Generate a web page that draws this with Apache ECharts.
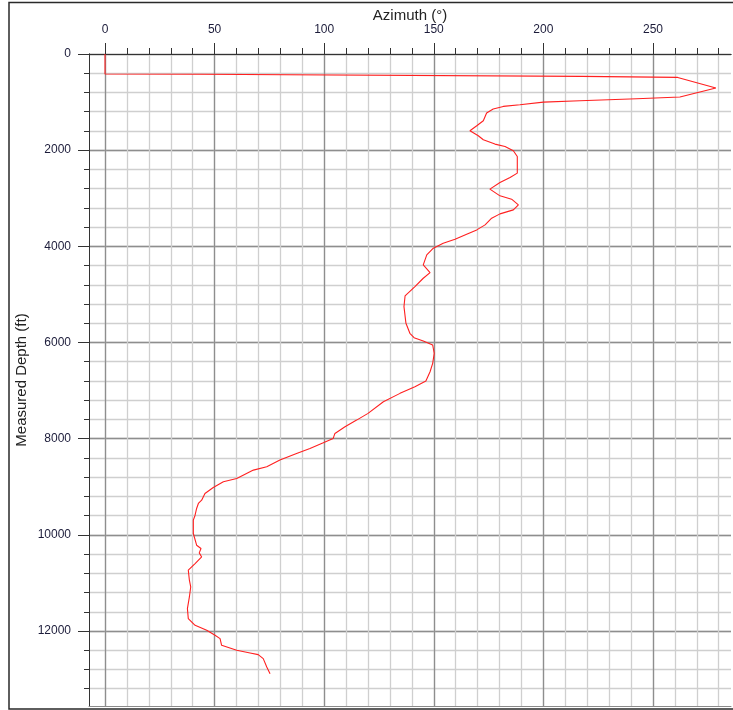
<!DOCTYPE html>
<html>
<head>
<meta charset="utf-8">
<script src="https://cdn.jsdelivr.net/npm/echarts@6/dist/echarts.min.js"></script>
<style>
  html, body { margin: 0; padding: 0; background: #fff; }
  #chart { width: 733px; height: 710px; }
</style>
</head>
<body>
<div id="chart"></div>
<script>
// Survey stations: measured depth (ft) and azimuth (deg)
const depthFt = [
  0, 416, 420, 445, 465, 487, 708, 893, 930, 972, 1000, 1056, 1090, 1145, 1228, 1389,
  1493, 1597, 1701, 1784, 1874, 1924, 2013, 2132, 2478, 2569, 2673, 2810, 2950, 3019,
  3137, 3242, 3325, 3414, 3554, 3658, 3748, 3852, 3935, 4039, 4178, 4387, 4547, 4664,
  4838, 5032, 5255, 5601, 5809, 5900, 5969, 6052, 6225, 6433, 6608, 6802, 6920, 7058,
  7233, 7474, 7614, 7753, 7891, 7995, 8086, 8203, 8307, 8446, 8585, 8654, 8827, 8898,
  9015, 9140, 9279, 9348, 9452, 9592, 9695, 9972, 10216, 10285, 10376, 10460, 10597,
  10736, 10944, 11084, 11292, 11534, 11742, 11881, 11986, 12090, 12159, 12298, 12402,
  12458, 12492, 12575, 12749, 12887
];
const azimuthDeg = [
  0, 0, 43.3, 43.6, 217.5, 261.3, 278.7, 262.3, 242.6, 216.7, 200, 189.3, 181.7, 177.1, 174.1, 172.6,
  169.6, 166.5, 170.3, 172.6, 177.9, 182.5, 186.3, 188.1, 188.1, 184.8, 180.2, 175.6, 180.2, 185.5,
  188.6, 186.3, 180.2, 176.4, 173.4, 169.6, 165.0, 159.7, 154.3, 149.8, 146.8, 145.2, 148.3, 145.2,
  141.4, 136.9, 136.4, 137.3, 139.1, 141.0, 145.2, 149.5, 150.2, 149.5, 148.3, 146.4, 141.4, 134.6,
  127.0, 120.0, 114.8, 109.5, 104.9, 104.1, 99.6, 93.5, 87.4, 79.8, 73.8, 67.7, 60.1, 54.0,
  49.4, 45.6, 44.1, 42.6, 41.8, 41.1, 40.3, 40.3, 41.8, 43.8, 43.0, 44.1, 41.1,
  38.0, 38.5, 39.1, 38.5, 37.6, 38.0, 41.1, 46.4, 50.2, 52.5, 53.2, 60.1,
  66.2, 69.9, 72.2, 73.8, 75.3
];

// Tick positions
const azimuthMajorTicks = [0, 50, 100, 150, 200, 250];
const azimuthMinorTicks = [0, 10, 20, 30, 40, 50, 60, 70, 80, 90, 100, 110, 120, 130, 140,
  150, 160, 170, 180, 190, 200, 210, 220, 230, 240, 250, 260, 270, 280];
const depthMajorTicks = [0, 2000, 4000, 6000, 8000, 10000, 12000];
const depthMinorTicks = [0, 400, 800, 1200, 1600, 2000, 2400, 2800, 3200, 3600, 4000, 4400,
  4800, 5200, 5600, 6000, 6400, 6800, 7200, 7600, 8000, 8400, 8800, 9200, 9600, 10000,
  10400, 10800, 11200, 11600, 12000, 12400, 12800, 13200];

const AZ_MIN = -7.3, AZ_MAX = 285.6;
const MD_MIN = 0, MD_MAX = 13560;
const FONT = '"Liberation Sans", Arial, sans-serif';
const AXIS_COLOR = '#333';
const MINOR_GRID = '#cfcfcf';
const MAJOR_GRID = '#8e8e8e';
const plain = v => String(v);

const chart = echarts.init(document.getElementById('chart'), null, { renderer: 'canvas' });

chart.setOption({
  animation: false,
  backgroundColor: '#fff',
  textStyle: { fontFamily: FONT },
  grid: { left: 89, right: 2, top: 54, bottom: 4, containLabel: false, outerBoundsMode: 'none' },
  graphic: [{
    type: 'rect',
    silent: true,
    z: 100,
    shape: { x: 9, y: 2.5, width: 740, height: 706.5 },
    style: { fill: null, stroke: '#2a2a2a', lineWidth: 1.5 }
  }],
  xAxis: [
    {
      // minor ticks and light grid
      type: 'value', position: 'top', min: AZ_MIN, max: AZ_MAX,
      axisLine: { show: true, onZero: false, lineStyle: { color: AXIS_COLOR } },
      axisTick: { show: true, customValues: azimuthMinorTicks, length: 6, lineStyle: { color: AXIS_COLOR } },
      axisLabel: { show: false },
      splitLine: { show: true, lineStyle: { color: MINOR_GRID, width: 1.3 } }
    },
    {
      // major ticks, labels and darker grid
      type: 'value', position: 'top', min: AZ_MIN, max: AZ_MAX,
      name: 'Azimuth (°)', nameLocation: 'middle', nameGap: 31, nameMoveOverlap: false,
      nameTextStyle: { fontSize: 15, color: '#222', fontFamily: FONT },
      axisLine: { show: true, onZero: false, lineStyle: { color: AXIS_COLOR } },
      axisTick: { show: true, customValues: azimuthMajorTicks, length: 11, lineStyle: { color: AXIS_COLOR } },
      axisLabel: { show: true, customValues: azimuthMajorTicks, margin: 18, fontSize: 12,
                   color: '#1c1c3a', fontFamily: FONT, formatter: plain },
      splitLine: { show: true, lineStyle: { color: MAJOR_GRID, width: 1.3 } }
    },
    {
      // bottom frame of the plot area
      type: 'value', position: 'bottom', min: AZ_MIN, max: AZ_MAX,
      axisLine: { show: true, onZero: false, lineStyle: { color: '#8a8a8a' } },
      axisTick: { show: false }, axisLabel: { show: false }, splitLine: { show: false }
    }
  ],
  yAxis: [
    {
      type: 'value', position: 'left', inverse: true, min: MD_MIN, max: MD_MAX,
      axisLine: { show: true, onZero: false, lineStyle: { color: AXIS_COLOR } },
      axisTick: { show: true, customValues: depthMinorTicks, length: 5, lineStyle: { color: AXIS_COLOR } },
      axisLabel: { show: false },
      splitLine: { show: true, lineStyle: { color: MINOR_GRID, width: 1.3 } }
    },
    {
      type: 'value', position: 'left', inverse: true, min: MD_MIN, max: MD_MAX,
      name: 'Measured Depth (ft)', nameLocation: 'middle', nameGap: 60, nameRotate: 90,
      nameMoveOverlap: false,
      nameTextStyle: { fontSize: 15, color: '#222', fontFamily: FONT },
      axisLine: { show: true, onZero: false, lineStyle: { color: AXIS_COLOR } },
      axisTick: { show: true, customValues: depthMajorTicks, length: 11, lineStyle: { color: AXIS_COLOR } },
      axisLabel: { show: true, customValues: depthMajorTicks, margin: 18, fontSize: 12,
                   color: '#1c1c3a', fontFamily: FONT, formatter: plain },
      splitLine: { show: true, lineStyle: { color: MAJOR_GRID, width: 1.3 } }
    }
  ],
  series: [{
    name: 'Azimuth',
    type: 'line',
    xAxisIndex: 0,
    yAxisIndex: 0,
    showSymbol: false,
    symbol: 'none',
    z: 5,
    lineStyle: { color: '#ff2020', width: 1.1 },
    data: depthFt.map((d, i) => [azimuthDeg[i], d])
  }]
});
</script>
</body>
</html>
